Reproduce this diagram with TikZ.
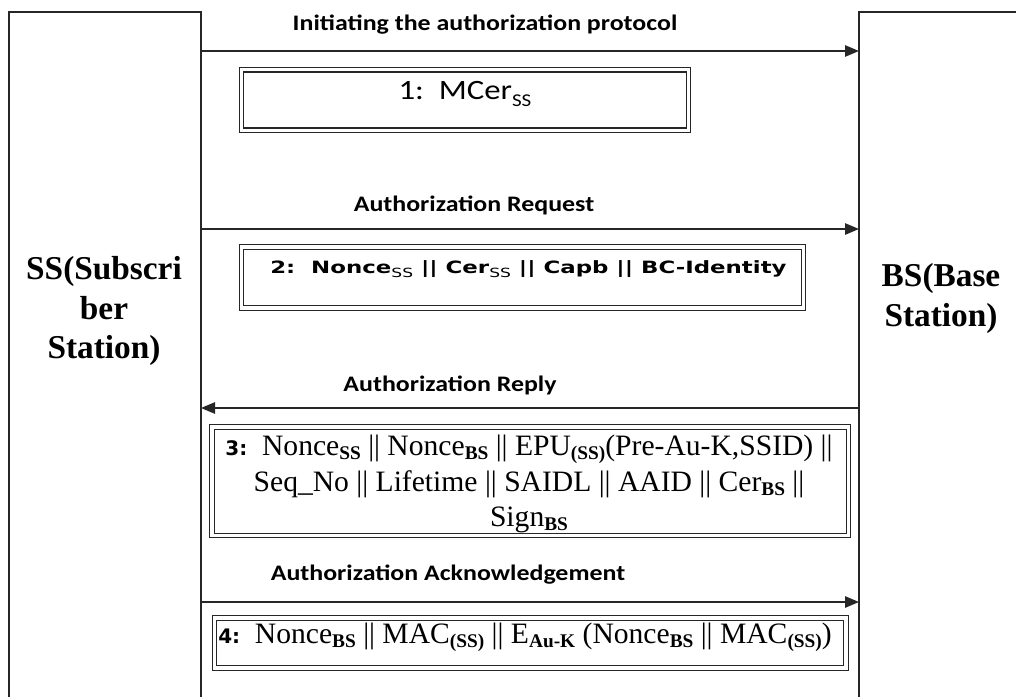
\documentclass[tikz,border=0pt]{standalone}
\usepackage{fontspec}
\setmainfont{Liberation Serif}
\newfontfamily\lblfont{Carlito}[FakeStretch=1.17]
\newfontfamily\vfont{DejaVu Sans}
\newfontfamily\vwide{DejaVu Sans}[FakeStretch=1.35]
\usetikzlibrary{arrows.meta}

% subscripts: bold serif, Carlito, DejaVu
\newcommand\tsub[1]{\raisebox{-0.14em}{\fontsize{14.5}{14.5}\selectfont\bfseries #1}}
\newcommand\csub[1]{\raisebox{-0.22em}{\fontsize{13.5}{13.5}\selectfont #1}}
\newcommand\vsub[1]{\raisebox{-0.28em}{\fontsize{9.5}{9.5}\selectfont\mdseries #1}}
\newcommand\stepno[1]{{\vfont\bfseries\fontsize{15}{15}\selectfont #1}}

\begin{document}
\begin{tikzpicture}[x=0.75pt,y=-0.75pt,
  life/.style={draw=black!85,line width=1.2pt,inner sep=0pt,outer sep=0pt},
  msgbox/.style={draw=black!85,double,double distance=2.6pt,line width=0.9pt,inner sep=0pt,outer sep=0pt},
  msg/.style={draw=black!85,line width=1.3pt,-{Triangle[length=10.5pt,width=8.5pt]}},
  lbl/.style={font={\lblfont\bfseries\fontsize{16.6}{20}\selectfont},inner sep=0pt},
  station/.style={font={\bfseries\fontsize{25}{29.3}\selectfont},align=center,inner sep=0pt},
  serifmsg/.style={font={\fontsize{22.2}{26.6}\selectfont},align=center,inner sep=0pt}]
\useasboundingbox (0,0) rectangle (1016,696);
\clip (0,0) rectangle (1016,696);

% the two stations
\node[life,minimum width=144pt,minimum height=531pt] (ss) at (105,366) {};
\node[life,minimum width=135.75pt,minimum height=531pt] (bs) at (949.5,366) {};
\node[station] (sstxt) at (104,311) {SS(Subscri\\ber\\Station)};
\node[station] (bstxt) at (941,298.5) {BS(Base\\Station)};

% message rows
\coordinate (r1) at (0,51);
\coordinate (r2) at (0,229);
\coordinate (r3) at (0,408);
\coordinate (r4) at (0,602);

\draw[msg] (ss.east |- r1) -- (bs.west |- r1);
\draw[msg] (ss.east |- r2) -- (bs.west |- r2);
\draw[msg] (bs.west |- r3) -- (ss.east |- r3);
\draw[msg] (ss.east |- r4) -- (bs.west |- r4);

\node[lbl] (l1) at (485,25) {Initiating the authorization protocol};
\node[lbl] (l2) at (474,205) {Authorization Request};
\node[lbl] (l3) at (450,385) {Authorization Reply};
\node[lbl] (l4) at (448,575) {Authorization Acknowledgement};

% message contents
\node[msgbox,minimum width=335.25pt,minimum height=45.4pt] (b1) at (465,100) {};
\node[msgbox,minimum width=421.5pt,minimum height=45.75pt] (b2) at (522.5,277.5) {};
\node[msgbox,minimum width=477.4pt,minimum height=81.4pt] (b3) at (530.25,481.25) {};
\node[msgbox,minimum width=473.6pt,minimum height=37.5pt] (b4) at (530.25,643) {};

\node[inner sep=0pt,font={\lblfont\fontsize{21}{24}\selectfont}] (t1) at (465,94) {1:\ \ MCer\csub{SS}};
\node[inner sep=0pt,anchor=west,font={\vwide\bfseries\fontsize{12.7}{15}\selectfont}] (t2) at (270,269)
  {2:\ \ Nonce\vsub{SS} || Cer\vsub{SS} || Capb || BC-Identity};
\node[serifmsg] (t3) at (529,484)
  {\stepno{3:}\ \ Nonce\tsub{SS} || Nonce\tsub{BS} || EPU\tsub{(SS)}(Pre-Au-K,SSID) ||\\
   Seq\_No || Lifetime || SAIDL || AAID || Cer\tsub{BS} ||\\
   Sign\tsub{BS}};
\node[serifmsg] (t4) at (525,637)
  {\stepno{4:}\ \ Nonce\tsub{BS} || MAC\tsub{(SS)} || E\tsub{Au-K} (Nonce\tsub{BS} || MAC\tsub{(SS)})};
\end{tikzpicture}
\end{document}
